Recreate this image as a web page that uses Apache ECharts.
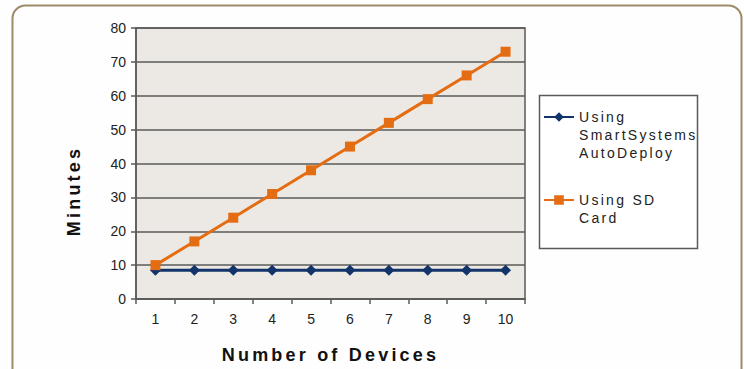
<!DOCTYPE html>
<html>
<head>
<meta charset="utf-8">
<script src="https://cdn.jsdelivr.net/npm/echarts@6/dist/echarts.min.js"></script>
<style>
  html, body { margin: 0; padding: 0; background: #fefefe; }
  #chart { width: 744px; height: 369px; }
  /* tracking for the axis titles (bold) and the legend entries (Arial family) */
  #chart text[style*="bold"] { letter-spacing: 3.2px; }
  #chart text[style*="Arial"] { letter-spacing: 2.3px; }
</style>
</head>
<body>
<div id="chart"></div>
<script>
// Devices deployed and time taken (minutes) per method
const devices = ['1', '2', '3', '4', '5', '6', '7', '8', '9', '10'];
const autoDeployMinutes = [8.5, 8.5, 8.5, 8.5, 8.5, 8.5, 8.5, 8.5, 8.5, 8.5];
const sdCardMinutes = [10, 17, 24, 31, 38, 45, 52, 59, 66, 73];
const seriesNames = ['Using\nSmartSystems\nAutoDeploy', 'Using SD\nCard'];
const yTicks = [0, 10, 20, 30, 40, 50, 60, 70, 80];

const BLUE = '#12346a';
const ORANGE = '#e46c12';
const LINE_GRAY = '#5a5a5a';
const TICK_FONT = 'Liberation Sans';
const LEGEND_FONT = "'Liberation Sans', Arial";

// Keep the legend marker level with the first line of a wrapped name:
// blank lines in front balance the lines that follow it.
function legendLabel(name) {
  const extra = name.split('\n').length - 1;
  return '\n'.repeat(extra) + name;
}

const chart = echarts.init(document.getElementById('chart'), null, { renderer: 'svg' });

const legendText = { fontFamily: LEGEND_FONT, fontSize: 14, lineHeight: 18, color: '#222' };

chart.setOption({
  backgroundColor: '#fefefe',
  animation: false,
  graphic: [
    {
      type: 'rect',
      shape: { x: 12.5, y: 5.5, width: 729, height: 390, r: 13 },
      style: { fill: 'none', stroke: '#9d8a68', lineWidth: 2 },
      z: -10
    },
    {
      type: 'rect',
      shape: { x: 539.5, y: 95.5, width: 158, height: 153 },
      style: { fill: '#ffffff', stroke: LINE_GRAY, lineWidth: 1.5 },
      z: -5
    }
  ],
  grid: {
    left: 136, top: 28, width: 389, height: 271,
    show: true,
    backgroundColor: '#ece9e5',
    borderColor: LINE_GRAY,
    borderWidth: 1.5
  },
  legend: [
    {
      orient: 'vertical',
      left: 543, top: 72,
      padding: 0,
      itemWidth: 30, itemHeight: 12,
      data: [seriesNames[0]],
      formatter: legendLabel,
      textStyle: legendText
    },
    {
      orient: 'vertical',
      left: 543, top: 173,
      padding: 0,
      itemWidth: 30, itemHeight: 12,
      data: [seriesNames[1]],
      formatter: legendLabel,
      textStyle: legendText
    }
  ],
  xAxis: {
    type: 'category',
    data: devices,
    boundaryGap: true,
    name: 'Number of Devices',
    nameLocation: 'middle',
    nameGap: 47,
    nameTextStyle: { fontFamily: 'Liberation Sans', fontWeight: 'bold', fontSize: 18, color: '#111' },
    axisLine: { lineStyle: { color: LINE_GRAY, width: 1.5 } },
    axisTick: { show: true, length: 5, alignWithLabel: false, lineStyle: { color: LINE_GRAY, width: 1.5 } },
    axisLabel: { fontFamily: TICK_FONT, fontSize: 14, color: '#222', margin: 13 },
    splitLine: { show: false }
  },
  yAxis: {
    type: 'value',
    min: yTicks[0],
    max: yTicks[yTicks.length - 1],
    interval: yTicks[1] - yTicks[0],
    name: 'Minutes',
    nameLocation: 'middle',
    nameGap: 53,
    nameTextStyle: { fontFamily: 'Liberation Sans', fontWeight: 'bold', fontSize: 18, color: '#111', padding: [0, 55, 0, 0] },
    axisLine: { show: true, lineStyle: { color: LINE_GRAY, width: 1.5 } },
    axisTick: { show: true, length: 5, lineStyle: { color: LINE_GRAY, width: 1.5 } },
    axisLabel: { fontFamily: TICK_FONT, fontSize: 14, color: '#222', margin: 10 },
    splitLine: { show: true, lineStyle: { color: LINE_GRAY, width: 1.5 } }
  },
  series: [
    {
      name: seriesNames[0],
      type: 'line',
      data: autoDeployMinutes,
      symbol: 'diamond',
      symbolSize: 11,
      color: BLUE,
      lineStyle: { color: BLUE, width: 3 },
      itemStyle: { color: BLUE },
      z: 3
    },
    {
      name: seriesNames[1],
      type: 'line',
      data: sdCardMinutes,
      symbol: 'rect',
      symbolSize: 10,
      color: ORANGE,
      lineStyle: { color: ORANGE, width: 3 },
      itemStyle: { color: ORANGE },
      z: 4
    }
  ]
});
</script>
</body>
</html>
